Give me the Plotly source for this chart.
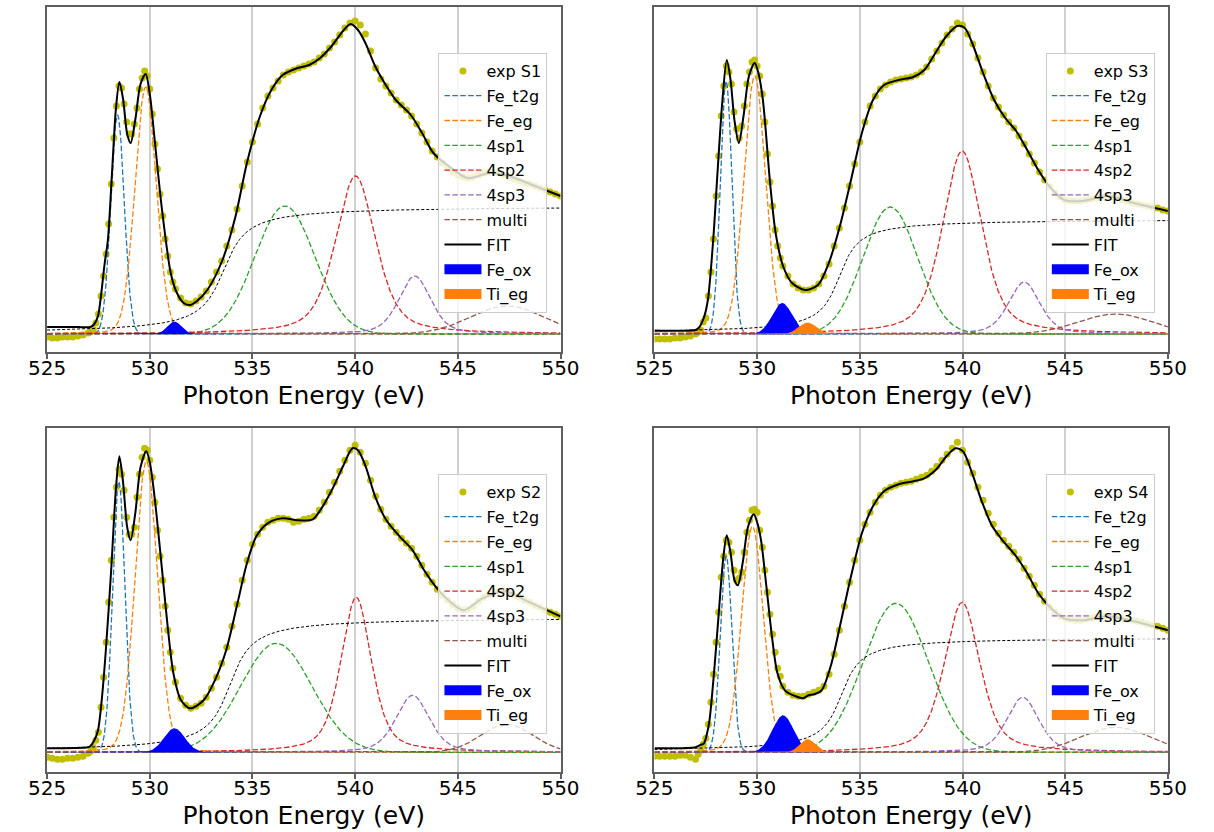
import numpy as np
import plotly.graph_objects as go

# ---------------------------------------------------------------- data
tick_vals = [525, 530, 535, 540, 545, 550]
component_names = ["Fe_t2g", "Fe_eg", "4sp1", "4sp2", "4sp3", "multi"]
component_colors = ["#1f77b4", "#ff7f0e", "#2ca02c", "#d62728", "#9467bd", "#8c564b"]
fill_names = ["Fe_ox", "Ti_eg"]
fill_colors = ["#0000ff", "#ff7f0e"]
sample_names = ["S1", "S3", "S2", "S4"]

# experimental points, sampled every 0.25 eV from 525 to 550 eV (a.u.)
exp_energy = np.round(np.arange(525.0, 550.001, 0.25), 2)
# extra experimental points on the pre-edge peaks (527.125 ... 531.125 eV)
exp_energy_fine = np.round(np.arange(527.125, 531.2, 0.25), 3)

s1_exp = [-3, -4, -4, -3, -3, -3, -2, -1,
          1, 5, 20, 58, 110, 196, 248, 230,
          200, 210, 245, 263, 245, 190, 140, 95,
          62, 45, 36, 31, 30, 33, 37, 43,
          52, 62, 73, 88, 104, 125, 148, 172,
          192, 210, 226, 238, 246, 253, 259, 262,
          264, 266, 268, 270, 272, 276, 280, 286,
          292, 299, 306, 311, 313, 309, 300, 283,
          266, 255, 248, 241, 234, 229, 224, 218,
          210, 201, 192, 183, 177, 171, 166, 162,
          159, 157, 156, 157, 159, 161, 162, 162,
          161, 159, 157, 155, 153, 151, 150, 148,
          146, 144, 142, 140, 138]
s1_exp_fine = [2, 11, 38, 80, 150, 228, 246, 212, 200, 226, 256, 258, 220, 165, 118, 78, 52]
s3_exp = [-5, -5, -5, -5, -4, -4, -3, -2,
          0, 4, 16, 62, 138, 218, 268, 250,
          205, 208, 250, 272, 268, 240, 180, 128,
          88, 68, 58, 50, 46, 44, 44, 46,
          50, 58, 70, 88, 106, 126, 148, 170,
          192, 212, 228, 238, 245, 249, 252, 254,
          255, 256, 257, 259, 262, 267, 275, 283,
          291, 299, 305, 311, 309, 300, 290, 276,
          262, 248, 236, 227, 219, 212, 206, 198,
          190, 180, 171, 162, 154, 147, 141, 137,
          134, 133, 133, 133, 134, 135, 136, 137,
          138, 137, 136, 134, 133, 131, 130, 129,
          128, 127, 126, 124, 123]
s3_exp_fine = [2, 12, 38, 95, 178, 248, 262, 222, 196, 228, 262, 274, 258, 212, 152, 104, 76]
s2_exp = [-5, -6, -7, -7, -6, -6, -5, -4,
          -1, 5, 20, 75, 150, 235, 283, 262,
          218, 225, 278, 304, 292, 250, 196, 146,
          100, 70, 54, 47, 44, 46, 49, 55,
          64, 75, 89, 105, 126, 148, 172, 192,
          208, 218, 225, 230, 232, 234, 234, 233,
          230, 231, 233, 234, 236, 242, 250, 260,
          270, 281, 292, 302, 307, 300, 289, 272,
          256, 243, 233, 226, 220, 214, 209, 204,
          196, 187, 178, 170, 163, 157, 152, 148,
          144, 142, 143, 146, 151, 155, 158, 160,
          161, 161, 160, 157, 155, 152, 150, 147,
          145, 142, 140, 138, 136]
s2_exp_fine = [1, 12, 45, 110, 192, 265, 278, 235, 218, 255, 295, 302, 275, 222, 172, 122, 84]
s4_exp = [-4, -4, -4, -4, -4, -3, -3, -5,
          -7, 2, 14, 50, 110, 175, 212, 200,
          172, 180, 220, 242, 240, 205, 160, 118,
          84, 66, 60, 57, 56, 56, 58, 60,
          62, 66, 78, 98, 122, 146, 170, 192,
          212, 228, 240, 250, 257, 262, 265, 267,
          269, 270, 271, 273, 275, 277, 281, 286,
          292, 298, 304, 310, 302, 290, 279, 265,
          252, 239, 228, 219, 212, 206, 200, 193,
          184, 176, 167, 158, 151, 145, 140, 136,
          134, 133, 132, 132, 133, 134, 135, 136,
          136, 136, 135, 134, 133, 132, 131, 130,
          128, 127, 126, 124, 122]
s4_exp_fine = [-2, 8, 28, 78, 140, 196, 210, 182, 174, 200, 232, 243, 222, 182, 138, 100, 76]

# fitted envelope (FIT)
s1_fit_energy = [525.0, 526.5, 527.1, 527.3, 527.48, 527.6, 527.8, 527.96, 528.16, 528.35,
                 528.52, 528.7, 528.9, 529.07, 529.3, 529.55, 529.8, 530.0, 530.24, 530.58,
                 531.02, 531.3, 531.65, 531.97, 532.3, 532.8, 533.54, 534.18, 534.73, 535.37,
                 535.92, 536.47, 537.2, 537.76, 538.3, 538.86, 539.41, 539.78, 540.14, 540.5,
                 540.97, 541.52, 541.98, 542.71, 543.26, 543.81, 544.55, 545.47, 546.57, 547.48,
                 548.4, 550.0]
s1_fit = [7, 7, 7, 10, 18, 34, 70, 94, 161, 225,
          252, 235, 200, 191, 215, 250, 260, 240, 194, 127,
          61, 42, 31, 29, 33, 44, 74, 118, 171, 218,
          244, 259, 266, 269, 276, 288, 303, 310, 304, 291,
          268, 248, 234, 219, 201, 181, 168, 156, 161, 158,
          151, 138]
s3_fit_energy = [525.0, 527.0, 527.15, 527.4, 527.6, 527.86, 528.09, 528.31, 528.52, 528.7,
                 528.9, 529.11, 529.35, 529.6, 529.88, 530.05, 530.28, 530.63, 530.9, 531.26,
                 531.7, 532.33, 532.96, 533.49, 534.03, 534.57, 535.1, 535.64, 536.18, 536.89,
                 537.6, 538.14, 538.68, 539.22, 539.75, 540.11, 540.47, 541.0, 541.54, 542.08,
                 542.61, 543.15, 543.69, 544.22, 544.94, 545.83, 547.08, 548.34, 550.0]
s3_fit = [3.5, 4, 6, 16, 34, 94, 168, 234, 274, 255,
          213, 191, 220, 258, 271, 262, 234, 151, 101, 68,
          51, 44, 49, 71, 108, 154, 201, 234, 249, 254,
          257, 264, 281, 298, 308, 306, 291, 261, 234, 216,
          203, 184, 164, 148, 134, 133, 138, 131, 123]
s2_fit_energy = [525.0, 527.0, 527.1, 527.3, 527.48, 527.65, 527.85, 528.12, 528.36, 528.52,
                 528.7, 528.9, 529.07, 529.3, 529.55, 529.83, 530.0, 530.23, 530.6, 530.87,
                 531.15, 531.52, 531.97, 532.62, 533.17, 533.72, 534.27, 534.73, 535.19, 535.74,
                 536.47, 537.2, 537.94, 538.3, 538.86, 539.41, 539.87, 540.14, 540.51, 540.97,
                 541.52, 542.16, 542.8, 543.36, 543.91, 544.55, 545.28, 546.2, 547.3, 548.4,
                 550.0]
s2_fit = [4, 5, 6, 12, 22, 50, 99, 182, 266, 296,
          270, 225, 212, 240, 285, 301, 290, 256, 182, 126,
          79, 52, 44, 52, 72, 102, 149, 189, 216, 229,
          234, 232, 233, 242, 262, 286, 304, 302, 286, 256,
          232, 216, 202, 182, 166, 152, 142, 154, 161, 151,
          136]
s4_fit_energy = [525.0, 527.0, 527.2, 527.41, 527.55, 527.68, 527.91, 528.13, 528.34, 528.52,
                 528.7, 528.9, 529.06, 529.3, 529.55, 529.83, 530.0, 530.19, 530.45, 530.72,
                 530.99, 531.35, 531.88, 532.24, 532.5, 532.78, 533.14, 533.58, 534.03, 534.57,
                 535.1, 535.64, 536.18, 536.89, 537.61, 538.14, 538.68, 539.22, 539.66, 540.02,
                 540.47, 540.92, 541.45, 541.99, 542.61, 543.15, 543.69, 544.22, 544.94, 545.83,
                 547.08, 548.34, 550.0]
s4_fit = [4, 5, 7, 9, 18, 32, 82, 139, 192, 217,
          200, 172, 167, 190, 225, 238, 230, 212, 166, 116,
          79, 62, 56, 54, 57, 58, 62, 86, 126, 176,
          219, 246, 261, 268, 271, 274, 282, 296, 304, 301,
          279, 252, 226, 211, 196, 179, 159, 146, 134, 132,
          136, 131, 122]

# fitted peaks: order Fe_t2g, Fe_eg, 4sp1, 4sp2, 4sp3, multi, Fe_ox, Ti_eg
peak_eta = [0.0, 0.1, 0.0, 0.5, 0.4, 0.0, 0.0, 0.0]
s1_center = [528.43, 529.80, 536.58, 540.02, 542.90, 547.40, 531.20, 532.50]
s1_height = [219, 247, 128, 158, 58, 28, 12.5, 0.4]
s1_fwhm = [0.77, 1.22, 3.44, 2.30, 1.83, 4.2, 0.80, 0.90]
s3_center = [528.49, 529.88, 536.48, 539.98, 543.00, 547.45, 531.22, 532.45]
s3_height = [253, 258, 127, 183, 52, 20, 31, 11.5]
s3_fwhm = [0.66, 1.25, 3.13, 2.24, 1.79, 4.2, 1.15, 1.00]
s2_center = [528.49, 529.83, 536.16, 540.05, 542.80, 547.39, 531.20, 532.50]
s2_height = [271, 291, 109, 155, 57, 28, 24, 0.4]
s2_fwhm = [0.71, 1.29, 4.10, 1.75, 1.92, 3.0, 1.20, 0.90]
s4_center = [528.49, 529.77, 536.75, 539.98, 542.93, 547.45, 531.26, 532.46]
s4_height = [196, 226, 149, 150, 55, 25, 37, 13]
s4_fwhm = [0.67, 1.25, 3.76, 2.05, 1.84, 4.0, 1.22, 0.90]

# arctan edge step: [height, position, width]
s1_step = [128, 533.6, 0.83]
s3_step = [115, 534.0, 0.70]
s2_step = [135, 533.9, 0.80]
s4_step = [115, 534.1, 0.70]

# --------------------------------------------------------------- figure
panels = [
    dict(name="S1", exp=s1_exp, expf=s1_exp_fine, fe=s1_fit_energy, fit=s1_fit,
         c=s1_center, h=s1_height, w=s1_fwhm, step=s1_step),
    dict(name="S3", exp=s3_exp, expf=s3_exp_fine, fe=s3_fit_energy, fit=s3_fit,
         c=s3_center, h=s3_height, w=s3_fwhm, step=s3_step),
    dict(name="S2", exp=s2_exp, expf=s2_exp_fine, fe=s2_fit_energy, fit=s2_fit,
         c=s2_center, h=s2_height, w=s2_fwhm, step=s2_step),
    dict(name="S4", exp=s4_exp, expf=s4_exp_fine, fe=s4_fit_energy, fit=s4_fit,
         c=s4_center, h=s4_height, w=s4_fwhm, step=s4_step),
]

W, H = 1214, 832
# pixel boxes of the four axes (left, right, top, bottom)
boxes = [(29, 559, 7, 352), (656, 1186, 7, 352), (29, 559, 428, 772), (656, 1186, 428, 772)]
legend_pos = [(433, 53), (1060, 53), (433, 474), (1060, 474)]
y_ranges = [[-18, 327], [-18, 327], [-19.7, 324.3], [-19.7, 324.3]]

grid = np.linspace(525, 550, 1201)


def pvoigt(x, c, h, fwhm, eta):
    u = (x - c) / fwhm
    return h * (eta / (1 + 4 * u ** 2) + (1 - eta) * np.exp(-4 * np.log(2) * u ** 2))


fig = go.Figure()
FONT = "DejaVu Sans"
dash = "5.5px,2.4px"

for i, p in enumerate(panels):
    k = "" if i == 0 else str(i + 1)
    xa, ya = "x" + k, "y" + k
    lg = "legend" + k
    counter = [0]

    def grp():
        counter[0] += 1
        return f"{p['name']}_{counter[0]}"

    ex = np.concatenate([exp_energy, exp_energy_fine])
    ey = np.concatenate([np.array(p["exp"], float), np.array(p["expf"], float)])
    order = np.argsort(ex)
    fig.add_trace(go.Scatter(x=ex[order], y=ey[order], mode="markers", name="exp " + p["name"],
                             marker=dict(color="#bfbf00", size=7), xaxis=xa, yaxis=ya,
                             legend=lg, legendgroup=grp()))
    for j, nm in enumerate(component_names):
        yv = pvoigt(grid, p["c"][j], p["h"][j], p["w"][j], peak_eta[j])
        fig.add_trace(go.Scatter(x=grid, y=yv, mode="lines", name=nm,
                                 line=dict(color=component_colors[j], width=1.3, dash=dash),
                                 xaxis=xa, yaxis=ya, legend=lg, legendgroup=grp()))
    A, E0, wd = p["step"]
    stp = A * (0.5 + np.arctan((grid - E0) / wd) / np.pi)
    fig.add_trace(go.Scatter(x=grid, y=stp, mode="lines", showlegend=False,
                             line=dict(color="black", width=1, dash="3px,2px"),
                             xaxis=xa, yaxis=ya, hoverinfo="skip"))
    fig.add_trace(go.Scatter(x=p["fe"], y=p["fit"], mode="lines", name="FIT",
                             line=dict(color="black", width=2, shape="spline", smoothing=0.8),
                             xaxis=xa, yaxis=ya, legend=lg, legendgroup=grp()))
    for j, nm in enumerate(fill_names):
        jj = 6 + j
        g = grp()
        yv = pvoigt(grid, p["c"][jj], p["h"][jj], p["w"][jj], peak_eta[jj])
        fig.add_trace(go.Scatter(x=grid, y=yv, mode="lines", name=nm, fill="tozeroy",
                                 fillcolor=fill_colors[j], line=dict(color=fill_colors[j], width=0),
                                 xaxis=xa, yaxis=ya, showlegend=False, legendgroup=g))
        # legend swatch (rectangle) for the filled area
        fig.add_trace(go.Scatter(x=[None], y=[None], mode="lines", name=nm,
                                 line=dict(color=fill_colors[j], width=14),
                                 xaxis=xa, yaxis=ya, legend=lg, legendgroup=g))

    l, r, t, b = boxes[i]
    axis_common = dict(showline=True, mirror=True, linecolor="#5e5e5e", linewidth=1.5)
    fig.update_layout(**{
        "xaxis" + k: dict(domain=[l / W, r / W], anchor=ya, range=[525, 550],
                          tickmode="array", tickvals=tick_vals, ticks="outside", ticklen=5,
                          tickcolor="#5e5e5e", tickwidth=1.5, ticklabelstandoff=-8,
                          tickfont=dict(family=FONT, size=20, color="black"),
                          showgrid=True, gridcolor="#d0d0d0", gridwidth=1.5, zeroline=False,
                          title=dict(text="Photon Energy (eV)", standoff=8,
                                     font=dict(family=FONT, size=25, color="black")),
                          **axis_common),
        "yaxis" + k: dict(domain=[1 - b / H, 1 - t / H], anchor=xa, range=y_ranges[i],
                          showticklabels=False, ticks="", showgrid=False, zeroline=False,
                          **axis_common),
        lg: dict(x=legend_pos[i][0] / W, y=1 - legend_pos[i][1] / H, xanchor="left", yanchor="top",
                 bgcolor="rgba(255,255,255,0.8)", bordercolor="#cccccc", borderwidth=1,
                 font=dict(family=FONT, size=16, color="black"), itemwidth=37,
                 traceorder="grouped", tracegroupgap=1),
    })

fig.update_layout(width=W, height=H, margin=dict(l=0, r=0, t=0, b=0),
                  plot_bgcolor="white", paper_bgcolor="white", showlegend=True)
fig.write_html("out.html")
